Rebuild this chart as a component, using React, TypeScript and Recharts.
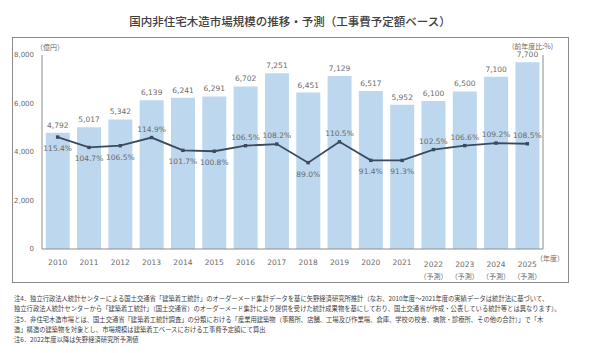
import React from "react";
import { ComposedChart, Bar, Line, XAxis, YAxis, LabelList } from "recharts";

const years = ["2010", "2011", "2012", "2013", "2014", "2015", "2016", "2017", "2018", "2019", "2020", "2021", "2022", "2023", "2024", "2025"];
const forecast = [false, false, false, false, false, false, false, false, false, false, false, false, true, true, true, true];
const marketSize = [4792, 5017, 5342, 6139, 6241, 6291, 6702, 7251, 6451, 7129, 6517, 5952, 6100, 6500, 7100, 7700];
const yoy = [115.4, 104.7, 106.5, 114.9, 101.7, 100.8, 106.5, 108.2, 89.0, 110.5, 91.4, 91.3, 102.5, 106.6, 109.2, 108.5];
const yoyLabelBelow = [true, true, true, false, true, true, false, false, true, false, true, true, false, false, false, false];
const leftTicks = [0, 2000, 4000, 6000, 8000];

const notes = [
  "注4．独立行政法人統計センターによる国土交通省「建築着工統計」のオーダーメード集計データを基に矢野経済研究所推計（なお、2010年度～2021年度の実績データは統計法に基づいて、",
  "独立行政法人統計センターから「建築着工統計」（国土交通省）のオーダーメード集計により提供を受けた統計成果物を基にしており、国土交通省が作成・公表している統計等とは異なります）。",
  "注5．非住宅木造市場とは、国土交通省「建築着工統計調査」の分類における「産業用建築物（事務所、店舗、工場及び作業場、倉庫、学校の校舎、病院・診療所、その他の合計）」で「木",
  "造」構造の建築物を対象とし、市場規模は建築着工ベースにおける工事費予定額にて算出",
  "注6．2022年度以降は矢野経済研究所予測値",
];

const data = years.map((y, i) => ({ year: y, size: marketSize[i], yoy: yoy[i] }));

const FONT = "'DejaVu Sans', 'Noto Sans CJK JP', sans-serif";
const JP = "'Noto Sans CJK JP', sans-serif";
const GRAY = "#6b6b6b";

const fmt = (v: number) => v.toLocaleString("en-US");

function YearTick(props: any) {
  const { x, y, payload, index } = props;
  const fc = forecast[index];
  return (
    <g>
      <text x={x} y={y + (fc ? 10 : 8)} textAnchor="middle" fontSize={7.5} fill={GRAY} fontFamily={FONT}>
        {payload.value}
      </text>
      {fc && (
        <text x={x} y={y + 22} textAnchor="middle" fontSize={7} fill={GRAY} fontFamily={JP}>
          （予測）
        </text>
      )}
    </g>
  );
}

function YoyLabel(props: any) {
  const { x, y, value, index } = props;
  const below = yoyLabelBelow[index];
  return (
    <text x={x} y={below ? y + 14 : y - 6} textAnchor="middle" fontSize={7.5} fill={GRAY} fontFamily={FONT}>
      {value.toFixed(1)}%
    </text>
  );
}

function SquareDot(props: any) {
  const { cx, cy } = props;
  return <rect x={cx - 1.7} y={cy - 1.7} width={3.4} height={3.4} fill="#3b4a5c" />;
}

export default function App() {
  return (
    <div style={{ position: "absolute", left: 0, top: 0, width: 600, height: 353, background: "#fff", overflow: "hidden" }}>
      <div style={{ position: "absolute", left: 0, top: 13, width: 580, textAlign: "center", fontFamily: JP, fontSize: 11.5, fontWeight: 500, color: "#404040" }}>
        国内非住宅木造市場規模の推移・予測（工事費予定額ベース）
      </div>
      <div style={{ position: "absolute", left: 12, top: 37, width: 557, height: 246, border: "1px solid #8c8c8c", boxSizing: "border-box" }} />
      <div style={{ position: "absolute", left: 36, top: 42, fontFamily: JP, fontSize: 7, color: GRAY }}>（億円）</div>
      <div style={{ position: "absolute", left: 512, top: 41, fontFamily: JP, fontSize: 7, color: GRAY }}>(前年度比:%)</div>
      <div style={{ position: "absolute", left: 536, top: 253, fontFamily: JP, fontSize: 7, color: GRAY }}>（年度）</div>
      <div style={{ position: "absolute", left: 0, top: 0 }}>
        <ComposedChart width={600} height={353} data={data} margin={{ top: 55, right: 37, bottom: 74, left: 12 }} barCategoryGap="12%">
          <XAxis dataKey="year" xAxisId="bottom" tickLine={false} axisLine={{ stroke: "#8c8c8c" }} tick={<YearTick />} height={30} interval={0} />
          <XAxis dataKey="year" xAxisId="top" orientation="top" tick={false} tickLine={false} axisLine={{ stroke: "#8c8c8c" }} height={0} />
          <YAxis
            yAxisId="left"
            domain={[0, 8000]}
            ticks={leftTicks}
            width={30}
            tickLine={false}
            axisLine={{ stroke: "#8c8c8c" }}
            tick={{ fontSize: 7, fill: GRAY, fontFamily: FONT }}
            tickFormatter={fmt}
          />
          <YAxis yAxisId="right" orientation="right" domain={[0, 200]} ticks={[200]} width={20} tick={false} tickSize={4} tickLine={{ stroke: "#8c8c8c" }} axisLine={{ stroke: "#8c8c8c" }} />
          <Bar dataKey="size" xAxisId="bottom" yAxisId="left" fill="#bdd7ee" isAnimationActive={false}>
            <LabelList dataKey="size" position="top" offset={5} formatter={(v: any) => fmt(Number(v))} style={{ fontSize: 7.5, fill: GRAY, fontFamily: FONT }} />
          </Bar>
          <Line dataKey="yoy" xAxisId="bottom" yAxisId="right" stroke="#3b4a5c" strokeWidth={1.8} dot={<SquareDot />} activeDot={false} isAnimationActive={false}>
            <LabelList dataKey="yoy" content={<YoyLabel />} />
          </Line>
        </ComposedChart>
      </div>
      <div style={{ position: "absolute", left: 14, top: 294, fontFamily: JP, fontSize: 6.3, color: "#404040", lineHeight: "9.5px", whiteSpace: "nowrap" }}>
        <div>{notes[0]}</div>
        <div>{notes[1]}</div>
        <div style={{ marginTop: 2 }}>{notes[2]}</div>
        <div>{notes[3]}</div>
        <div style={{ marginTop: 1 }}>{notes[4]}</div>
      </div>
    </div>
  );
}
